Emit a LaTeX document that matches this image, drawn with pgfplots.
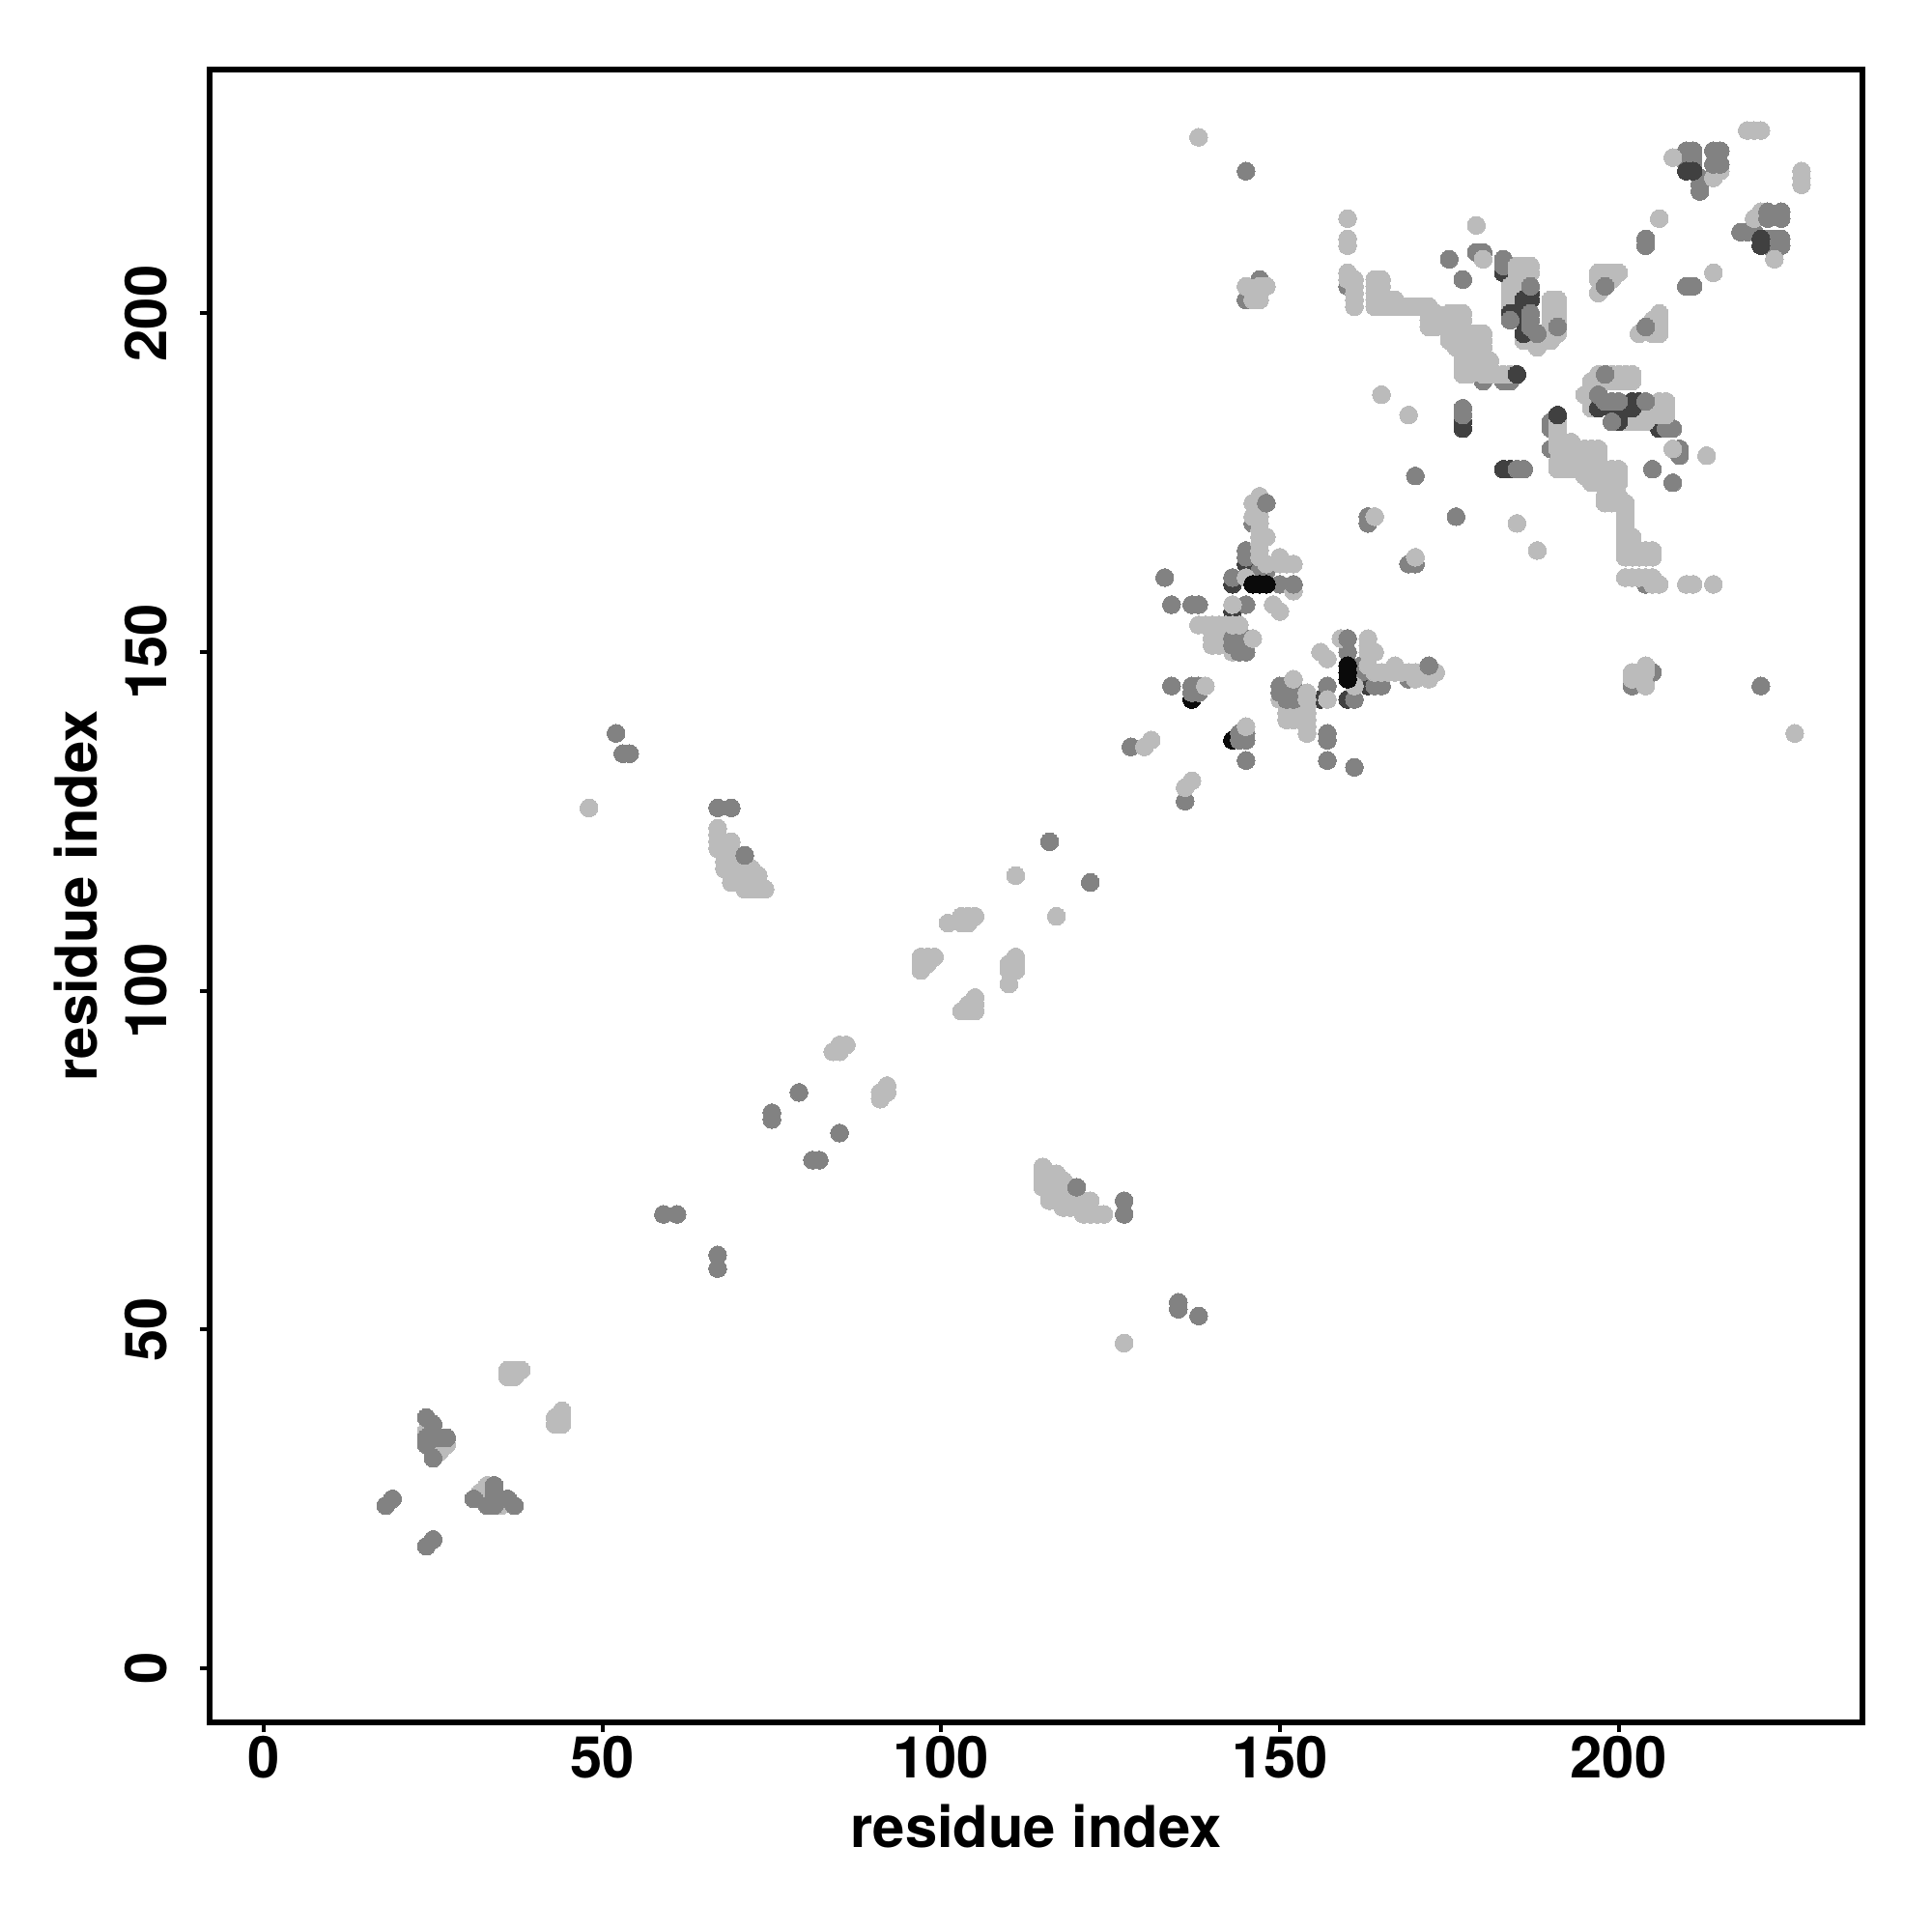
\documentclass[border=0pt]{standalone}
\usepackage{fontspec}
\setmainfont{TeX Gyre Heros}
\usepackage{pgfplots}
\usepackage{pgfplotstable}
\pgfplotsset{compat=1.18}
\definecolor{clight}{HTML}{BBBBBB}
\definecolor{cmid}{HTML}{828282}
\definecolor{cdark}{HTML}{404040}
\definecolor{cblack}{HTML}{0A0A0A}
\pgfplotstableread[row sep=\\]{i j\\
137 143\\184 207\\
}\tblack
\pgfplotstableread[row sep=\\]{i j\\
143 156\\143 160\\145 163\\177 183\\177 184\\183 206\\184 206\\184 205\\
}\tdark
\pgfplotstableread[row sep=\\]{i j\\
52 138\\53 135\\54 135\\59 67\\61 67\\67 127\\69 127\\75 81\\75 82\\79 85\\
116 122\\128 136\\
133 161\\134 157\\137 157\\138 157\\145 157\\143 161\\145 165\\145 164\\
134 145\\137 145\\138 145\\137 144\\138 144\\
147 162\\148 162\\146 169\\147 161\\150 160\\
160 204\\145 202\\147 205\\145 221\\
163 170\\163 169\\170 176\\175 208\\177 205\\177 185\\177 186\\
179 209\\180 209\\183 208\\183 207\\184 190\\183 190\\180 190\\
204 210\\204 211\\210 224\\211 224\\210 223\\211 223\\210 222\\211 222\\212 220\\212 219\\212 218\\
}\tmid
\pgfplotstableread[row sep=\\]{i j\\
24 35\\25 32\\26 32\\26 33\\27 33\\
36 43\\37 43\\36 44\\37 44\\38 44\\48 127\\
67 124\\67 123\\67 122\\67 121\\68 121\\68 120\\68 119\\68 118\\69 122\\69 121\\69 120\\69 119\\69 118\\69 117\\69 116\\70 118\\70 117\\70 116\\71 118\\71 117\\71 116\\71 115\\72 118\\72 117\\72 116\\72 115\\73 117\\73 116\\73 115\\74 115\\
84 91\\85 91\\85 92\\86 92\\
97 103\\97 104\\97 105\\98 104\\98 105\\99 105\\
101 110\\103 110\\103 111\\104 110\\104 111\\105 111\\111 117\\130 136\\131 137\\138 226\\
138 154\\139 154\\140 154\\141 154\\142 154\\140 153\\141 153\\142 153\\143 153\\140 152\\141 152\\140 151\\141 151\\142 151\\143 150\\
139 145\\143 157\\149 157\\150 156\\152 159\\150 163\\151 163\\152 163\\150 164\\148 163\\
147 164\\147 165\\147 166\\147 167\\148 167\\147 168\\147 169\\147 170\\147 171\\146 172\\147 173\\146 170\\145 161\\164 170\\
160 214\\160 211\\160 210\\160 206\\160 205\\161 205\\161 204\\161 203\\161 202\\161 201\\
164 205\\165 205\\164 204\\165 204\\164 203\\165 203\\164 202\\165 202\\164 201\\165 201\\166 201\\166 202\\167 202\\167 201\\168 201\\169 201\\170 201\\171 201\\172 201\\172 200\\172 199\\172 198\\173 200\\173 199\\173 198\\174 199\\175 200\\176 200\\177 200\\175 199\\176 199\\177 199\\175 198\\176 198\\177 198\\175 197\\176 197\\177 197\\175 196\\176 196\\177 196\\176 195\\177 195\\178 194\\177 194\\177 193\\177 192\\177 191\\178 193\\178 191\\178 197\\179 197\\180 197\\179 196\\180 196\\179 195\\180 195\\179 194\\180 194\\179 193\\180 193\\181 193\\180 192\\179 192\\178 192\\180 191\\181 191\\182 191\\183 191\\184 191\\
180 208\\179 213\\
185 207\\186 207\\187 207\\185 206\\186 206\\187 206\\185 205\\186 205\\184 204\\185 204\\186 204\\184 203\\185 203\\184 202\\185 202\\184 201\\185 201\\186 196\\187 196\\188 195\\189 196\\190 196\\191 197\\190 202\\191 202\\190 201\\191 201\\190 200\\191 200\\190 199\\191 199\\190 198\\190 197\\
169 185\\165 188\\
145 204\\146 203\\147 203\\146 202\\147 202\\147 204\\148 204\\
208 223\\214 220\\215 221\\206 214\\219 227\\220 227\\221 227\\197 203\\197 205\\198 205\\197 206\\198 206\\200 206\\199 205\\199 206\\
}\tlight
\pgfplotstableread[row sep=\\]{i j\\
146 160\\147 160\\148 160\\
}\ttopblack
\pgfplotstableread[row sep=\\]{i j\\
185 191\\184 200\\186 197\\186 199\\186 200\\186 201\\186 202\\187 202\\187 203\\185 200\\210 221\\211 221\\
}\ttopdark
\pgfplotstableread[row sep=\\]{i j\\
18 24\\19 25\\24 37\\25 36\\24 34\\24 33\\25 34\\26 34\\27 34\\25 31\\71 120\\
143 151\\144 150\\145 150\\144 151\\145 151\\144 152\\145 152\\143 152\\
148 172\\152 160\\184 199\\187 198\\187 199\\187 200\\187 204\\188 197\\191 198\\198 204\\214 224\\215 224\\214 222\\215 222\\
}\ttopmid
\pgfplotstableread[row sep=\\]{i j\\
146 152\\143 154\\144 154\\
}\ttoplight
\newcommand{\twoways}[2]{%
  \addplot[only marks,mark=*,mark size=2.63pt,mark options={line width=0pt,draw=#1,fill=#1}] table[x=i,y=j]{#2};
  \addplot[only marks,mark=*,mark size=2.63pt,mark options={line width=0pt,draw=#1,fill=#1}] table[x=j,y=i]{#2};
}
\begin{document}
\begin{tikzpicture}[x=1cm,y=1cm]
\path[use as bounding box] (0,0) rectangle (20,20);
\begin{axis}[
  at={(2.17cm,2.17cm)},anchor=south west,
  scale only axis,width=17.11cm,height=17.11cm,
  xmin=-8,xmax=236,ymin=-8,ymax=236,
  xtick={0,50,100,150,200},ytick={0,50,100,150,200},
  tick pos=left,
  tick align=outside,tickwidth=0.1cm,
  axis line style={line width=0.055cm},
  tick style={line width=0.04cm,black},
  /pgf/number format/assume math mode=true,
  tick label style={font=\fontsize{17}{20}\selectfont\bfseries},
  yticklabel style={rotate=90,anchor=south,yshift=0.22cm},
  xticklabel style={anchor=north,yshift=0.08cm},
  xlabel={residue index},ylabel={residue index},
  xlabel style={font=\fontsize{17}{20}\selectfont\bfseries,at={(axis description cs:0.5,0)},anchor=center,yshift=-1.08cm},
  ylabel style={font=\fontsize{17}{20}\selectfont\bfseries,at={(axis description cs:0,0.5)},anchor=center,yshift=1.38cm},
  clip=false,
]
\twoways{cblack}{\tblack}
\twoways{cdark}{\tdark}
\twoways{cmid}{\tmid}
\twoways{clight}{\tlight}
\twoways{cblack}{\ttopblack}
\twoways{cdark}{\ttopdark}
\twoways{cmid}{\ttopmid}
\twoways{clight}{\ttoplight}
\end{axis}
\end{tikzpicture}
\end{document}
